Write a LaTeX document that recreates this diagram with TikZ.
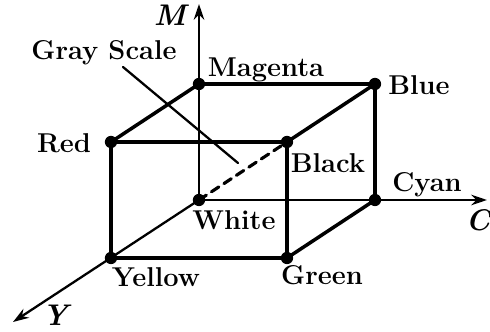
\documentclass[tikz,border=0pt]{standalone}
\usepackage{tikz}
\usetikzlibrary{arrows.meta}
\tikzset{
  every picture/.style={
    line join=round,
    line cap=round,
    >={Stealth[length=9pt,width=6pt]},
  },
  cubeedge/.style={line width=2pt},
  axisline/.style={line width=1.3pt},
  vtx/.style={circle, fill, inner sep=0pt, minimum size=7pt},
  lbl/.style={font=\fontsize{15.5}{18}\selectfont\bfseries},
  axlbl/.style={font=\fontsize{17}{19}\selectfont\bfseries\itshape},
}

\begin{document}
\begin{tikzpicture}
\useasboundingbox (-3.98,-2.64) rectangle (5.82,4.0);
% corners of the cube
\node[vtx] (white) at (0,0) {};
\node[vtx] (magenta) at (0,2.32) {};
\node[vtx] (blue) at (3.52,2.32) {};
\node[vtx] (cyan) at (3.52,0) {};
\node[vtx] (red) at (-1.76,1.16) {};
\node[vtx] (black) at (1.76,1.16) {};
\node[vtx] (yellow) at (-1.76,-1.16) {};
\node[vtx] (green) at (1.76,-1.16) {};
% axes
\coordinate (mtip) at (0,3.92);
\coordinate (ctip) at (5.76,0);
\coordinate (ytip) at (-3.72,-2.44);
\draw[axisline,->] (white.center) -- (mtip);
\draw[axisline,->] (white.center) -- (ctip);
\draw[axisline,->] (white.center) -- (ytip);
% edges
\draw[cubeedge] (red.center) -- (black.center) -- (blue.center) -- (magenta.center) -- (red.center) -- (yellow.center) -- (green.center) -- (cyan.center) -- (blue.center);
\draw[cubeedge] (black.center) -- (green.center);
\draw[line width=1.8pt, dash pattern=on 5pt off 3.5pt] (white.center) -- (black.center);
% pointer
\coordinate (gsfrom) at (-1.52,2.66);
\coordinate (gsto) at (0.78,0.74);
\draw[axisline] (gsfrom) -- (gsto);
% labels
\node[lbl] (lgray) at (-1.9,2.94) {Gray Scale};
\node[lbl] (lmagenta) at (1.34,2.6) {Magenta};
\node[lbl] (lblue) at (4.4,2.3) {Blue};
\node[lbl] (lred) at (-2.7,1.14) {Red};
\node[lbl] (lblack) at (2.58,0.74) {Black};
\node[lbl] (lwhite) at (0.7,-0.4) {White};
\node[lbl] (lcyan) at (4.56,0.3) {Cyan};
\node[lbl] (lyellow) at (-0.86,-1.54) {Yellow};
\node[lbl] (lgreen) at (2.46,-1.5) {Green};
\node[axlbl] (lm) at (-0.58,3.7) {M};
\node[axlbl] (lc) at (5.58,-0.4) {C};
\node[axlbl] (ly) at (-2.88,-2.3) {Y};
\end{tikzpicture}
\end{document}
